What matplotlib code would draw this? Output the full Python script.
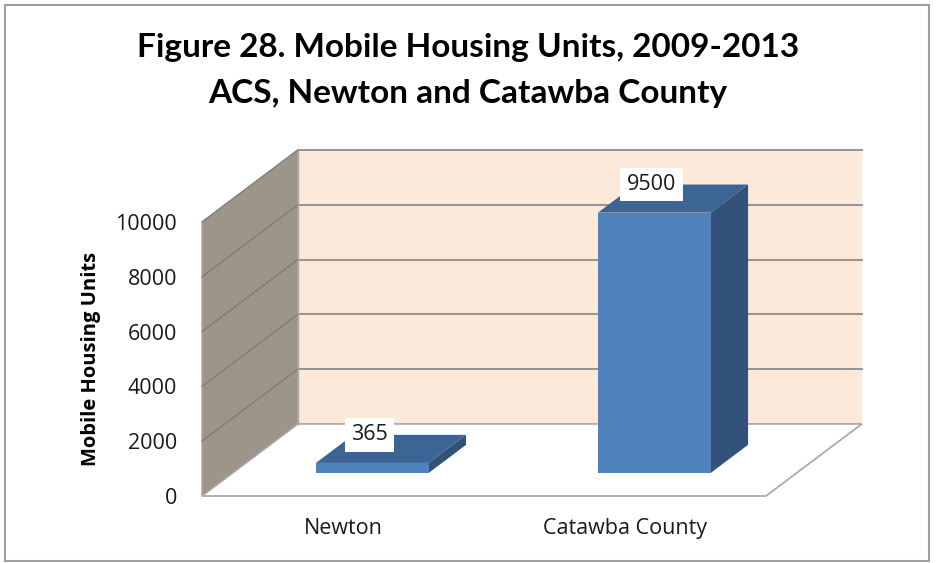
import matplotlib.pyplot as plt
from matplotlib.patches import Polygon, Rectangle

categories = ["Newton", "Catawba County"]
values = [365, 9500]
yticks = [0, 2000, 4000, 6000, 8000, 10000]
title_lines = ["Figure 28. Mobile Housing Units, 2009-2013", "ACS, Newton and Catawba County"]
ylabel = "Mobile Housing Units"

# fake 3d: depth offset in data units (category units, value units)
DX, DY = 0.34, 2630
F0, F1 = 0.32, 0.71          # bar depth span as fraction of the floor depth
BAR_OFF, BAR_W = 0.295, 0.40
YMAX = 10000

front_c, top_c, side_c = "#4F81BD", "#3C6494", "#32527B"
wall_side, wall_back = "#9D948A", "#FDE9D9"
grid_c, edge_c = "#8C8C8C", "#A6A6A6"
txt_c = "#1a1a1a"

fig = plt.figure(figsize=(9.36, 5.63), dpi=100)
ax = fig.add_axes([202 / 936, (563 - 496) / 563, 564 / 936, 274 / 563])
ax.set_xlim(0, len(categories))
ax.set_ylim(0, YMAX)
for s in ax.spines.values():
    s.set_visible(False)
ax.patch.set_alpha(0)

n = len(categories)

# walls and floor
ax.add_patch(Polygon([(DX, DY), (n + DX, DY), (n + DX, YMAX + DY), (DX, YMAX + DY)],
                     closed=True, fc=wall_back, ec="none", clip_on=False, zorder=1))
ax.add_patch(Polygon([(0, 0), (0, YMAX), (DX, YMAX + DY), (DX, DY)],
                     closed=True, fc=wall_side, ec=edge_c, lw=1, clip_on=False, zorder=1))
ax.add_patch(Polygon([(0, 0), (n, 0), (n + DX, DY), (DX, DY)],
                     closed=True, fc="white", ec=edge_c, lw=1.2, clip_on=False, zorder=1))

# gridlines on both walls
for t in yticks[1:]:
    ax.plot([0, DX], [t, t + DY], color="#7F7A74", lw=0.9, clip_on=False, zorder=2)
    ax.plot([DX, n + DX], [t + DY, t + DY], color=grid_c, lw=1.3, clip_on=False, zorder=2)
ax.plot([DX, DX], [DY, YMAX + DY], color=edge_c, lw=1, clip_on=False, zorder=2)

# bars
for i, v in enumerate(values):
    x0 = i + BAR_OFF
    x1 = x0 + BAR_W
    ax0, ay0 = F0 * DX, F0 * DY
    bx, by = F1 * DX, F1 * DY
    ax.add_patch(Polygon([(x1 + ax0, ay0), (x1 + bx, by), (x1 + bx, by + v), (x1 + ax0, ay0 + v)],
                         closed=True, fc=side_c, ec="none", clip_on=False, zorder=3))
    ax.add_patch(Polygon([(x0 + ax0, ay0 + v), (x1 + ax0, ay0 + v), (x1 + bx, by + v), (x0 + bx, by + v)],
                         closed=True, fc=top_c, ec="none", clip_on=False, zorder=3))
    ax.add_patch(Rectangle((x0 + ax0, ay0), BAR_W, v, fc=front_c, ec="none", clip_on=False, zorder=4))
    ax.text((x0 + x1) / 2 + ax0 - 0.01, by + v, str(v), ha="center", va="center",
            fontsize=15.5, family="Open Sans", color=txt_c, zorder=6,
            bbox=dict(boxstyle="square,pad=0.3", fc="white", ec="none"))

# axes text
ax.set_yticks(yticks)
ax.set_yticklabels([str(t) for t in yticks], fontsize=15.5, family="Open Sans", color=txt_c)
ax.tick_params(axis="y", length=0, pad=18)
ax.set_xticks([i + 0.5 for i in range(n)])
ax.set_xticklabels(categories, fontsize=15.5, family="Open Sans", color=txt_c)
ax.tick_params(axis="x", length=0, pad=16)
ax.set_ylabel(ylabel, fontsize=14.5, fontweight="bold", family="Open Sans", labelpad=10)

# two title lines, centred on the chart
for k, line in enumerate(title_lines):
    fig.text(0.5, 1 - (47 + 47 * k) / 563, line, ha="center", va="center", fontsize=24,
             fontweight="bold", family="Lato")

# chart area border
fig.add_artist(Rectangle((5 / 936, 2 / 563), 924 / 936, 556 / 563, transform=fig.transFigure,
                         fill=False, ec="#A0A0A0", lw=1.5))

plt.savefig("out.png", dpi=100)
